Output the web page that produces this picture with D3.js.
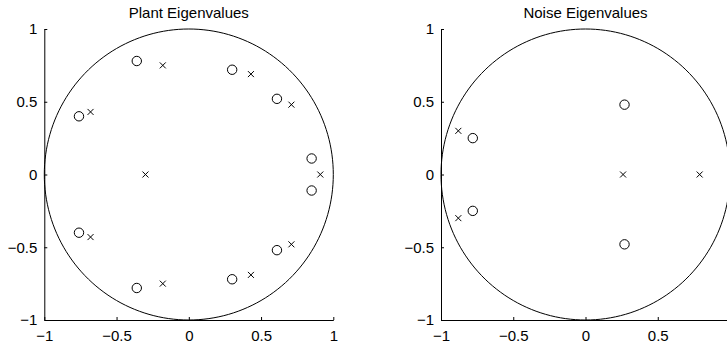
<!DOCTYPE html>
<html>
<head>
<meta charset="utf-8">
<script src="https://cdn.jsdelivr.net/npm/d3@7"></script>
<style>
  body { margin: 0; background: #fff; }
  svg { display: block; font-family: "Liberation Sans", Arial, sans-serif; }
  .axis path, .axis line { stroke: #000; }
  .axis text { font-size: 15px; fill: #000; }
  .title { font-size: 15px; fill: #000; }
</style>
</head>
<body>
<div id="chart"></div>
<script>
// plant eigenvalues
const plantZerosX = [-0.36, 0.30, 0.61, -0.76, 0.85, 0.85, -0.76, 0.61, 0.30, -0.36];
const plantZerosY = [0.78, 0.72, 0.52, 0.40, 0.11, -0.11, -0.40, -0.52, -0.72, -0.78];
const plantPolesX = [-0.18, 0.43, 0.71, -0.68, -0.30, 0.91, -0.68, 0.71, 0.43, -0.18];
const plantPolesY = [0.75, 0.69, 0.48, 0.43, 0, 0, -0.43, -0.48, -0.69, -0.75];

// noise eigenvalues
const noiseZerosX = [0.27, -0.78, -0.78, 0.27];
const noiseZerosY = [0.48, 0.25, -0.25, -0.48];
const noisePolesX = [-0.88, 0.26, 0.79, -0.88];
const noisePolesY = [0.30, 0, 0, -0.30];

const tickValues = [-1, -0.5, 0, 0.5, 1];
// right panel runs off the picture, its "1" label is not shown
const noiseXTicks = [-1, -0.5, 0, 0.5];
const titles = ['Plant Eigenvalues', 'Noise Eigenvalues'];

const width = 727;
const height = 345;

const svg = d3.select('#chart')
    .append('svg')
    .attr('width', width)
    .attr('height', height);

const fmt = d3.format('~g');

const drawPanel = (left, title, xTicks, zx, zy, px, py) => {
    const graphWidth = 289;
    const graphHeight = 291;
    const top = 29;

    const x = d3.scaleLinear().domain([-1, 1]).range([0, graphWidth]);
    const y = d3.scaleLinear().domain([-1, 1]).range([graphHeight, 0]);

    const g = svg.append('g')
        .attr('transform', `translate(${left}, ${top})`);

    // unit circle
    const theta = d3.range(0, 361, 2).map(a => a * Math.PI / 180);
    const circ = d3.line()
        .x(t => x(Math.cos(t)))
        .y(t => y(Math.sin(t)));
    g.append('path')
        .datum(theta)
        .attr('d', circ)
        .attr('fill', 'none')
        .attr('stroke', '#000')
        .attr('stroke-width', 1);

    // axes, ticks pointing inward
    const xAxis = d3.axisBottom(x)
        .tickValues(xTicks)
        .tickFormat(fmt)
        .tickSizeInner(-3)
        .tickSizeOuter(0)
        .tickPadding(10);
    const yAxis = d3.axisLeft(y)
        .tickValues(tickValues)
        .tickFormat(fmt)
        .tickSizeInner(-3)
        .tickSizeOuter(0)
        .tickPadding(7);

    g.append('g')
        .attr('class', 'axis')
        .attr('transform', `translate(0, ${graphHeight})`)
        .call(xAxis);
    g.append('g')
        .attr('class', 'axis')
        .call(yAxis);
    g.selectAll('.axis text').attr('font-family', null).attr('font-size', null);

    // zeros (circles)
    g.selectAll('circle.zero')
        .data(zx.map((d, i) => [d, zy[i]]))
        .enter()
        .append('circle')
        .attr('class', 'zero')
        .attr('cx', d => x(d[0]))
        .attr('cy', d => y(d[1]))
        .attr('r', 4.7)
        .attr('fill', 'none')
        .attr('stroke', '#000');

    // poles (crosses)
    const s = 3;
    g.selectAll('path.pole')
        .data(px.map((d, i) => [d, py[i]]))
        .enter()
        .append('path')
        .attr('class', 'pole')
        .attr('d', d => {
            const cx = x(d[0]), cy = y(d[1]);
            return `M${cx - s},${cy - s}L${cx + s},${cy + s}M${cx - s},${cy + s}L${cx + s},${cy - s}`;
        })
        .attr('stroke', '#000')
        .attr('fill', 'none');

    g.append('text')
        .attr('class', 'title')
        .attr('x', x(0))
        .attr('y', -11)
        .attr('text-anchor', 'middle')
        .text(title);
};

drawPanel(44.3, titles[0], tickValues, plantZerosX, plantZerosY, plantPolesX, plantPolesY);
drawPanel(441, titles[1], noiseXTicks, noiseZerosX, noiseZerosY, noisePolesX, noisePolesY);
</script>
</body>
</html>
